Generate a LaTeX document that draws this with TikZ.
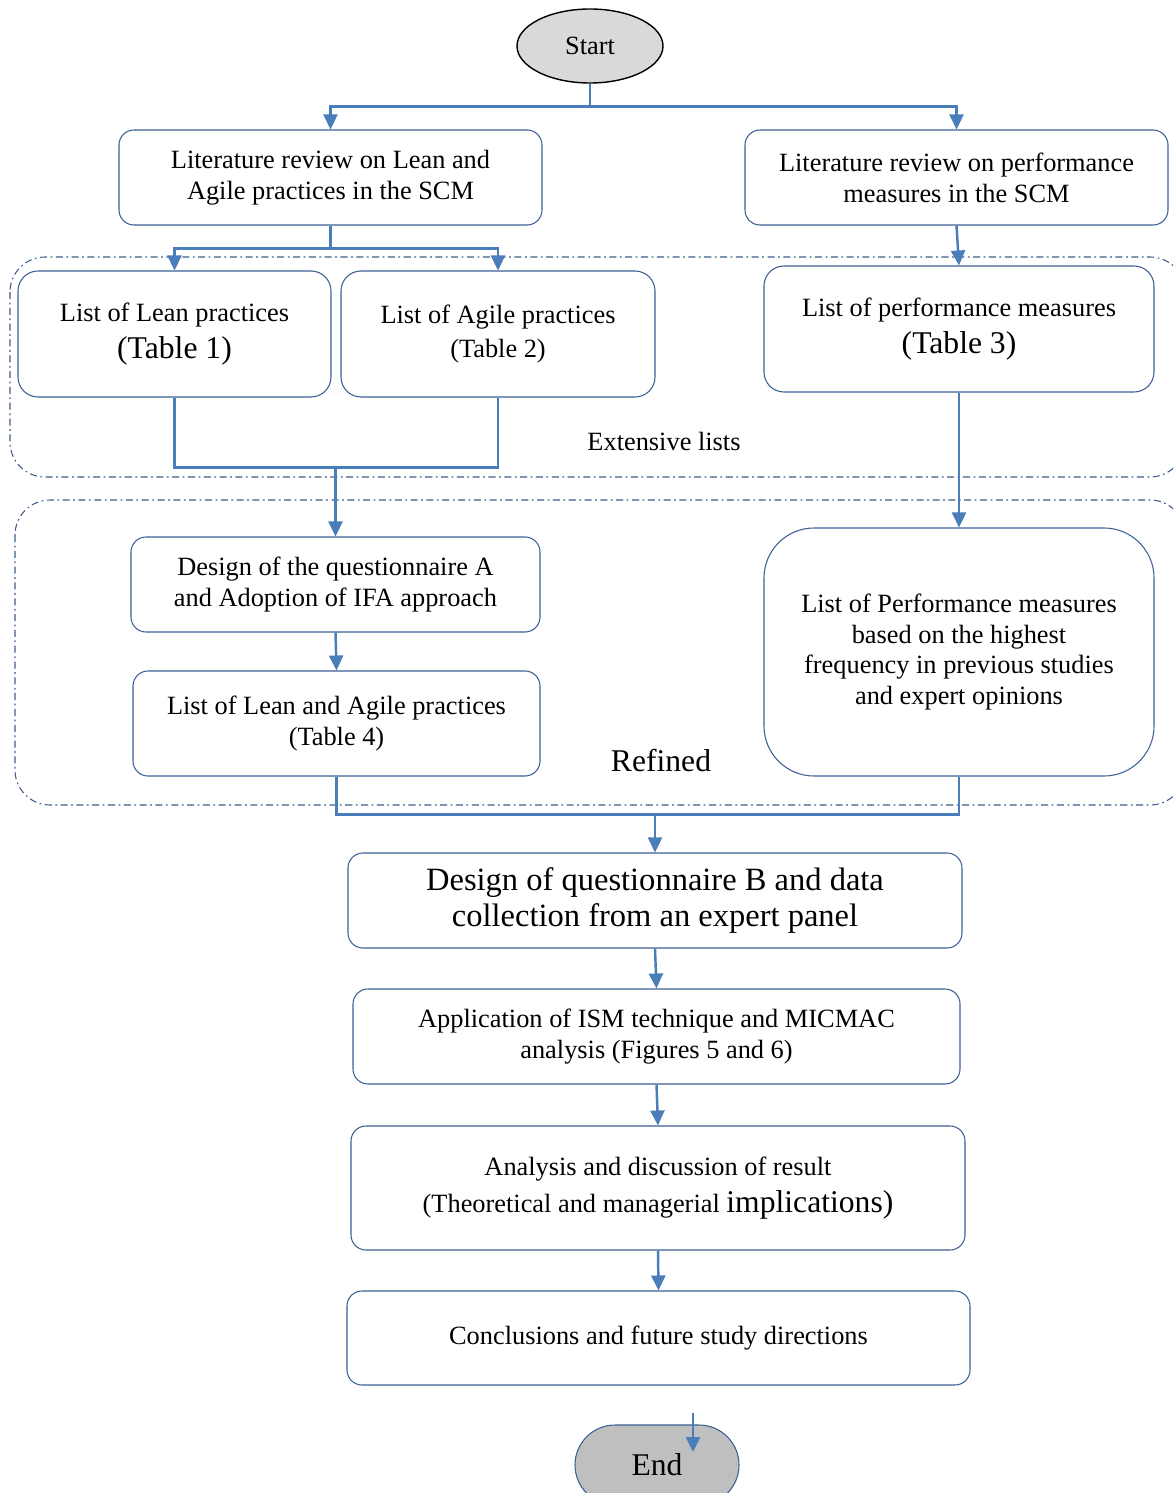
\documentclass[tikz,border=0pt]{standalone}
\usepackage{fontspec}
\setmainfont{Liberation Serif}
\usepackage{xcolor}
\usetikzlibrary{shapes.geometric,arrows.meta}
\definecolor{linkblue}{RGB}{74,126,187}
\definecolor{boxblue}{RGB}{60,95,150}
\definecolor{zoneblue}{RGB}{60,90,140}
\definecolor{startgray}{RGB}{217,217,217}
\definecolor{endgray}{RGB}{191,191,191}
\newcommand{\bigtxt}{\fontsize{18}{21}\selectfont}

\begin{document}
\begin{tikzpicture}[x=0.2mm, y=-0.2mm,
    box/.style={draw=boxblue, line width=0.6pt, rounded corners=3mm, fill=white,
        align=center, font=\fontsize{15}{17.6}\selectfont, inner sep=0pt},
    conn/.style={draw=linkblue, line width=1.4pt, -{Triangle[length=3mm,width=2.8mm]}},
    link/.style={draw=linkblue, line width=1.4pt},
    zone/.style={draw=zoneblue, line width=0.6pt,
        dash pattern=on 4pt off 2pt on 1pt off 2pt, rounded corners=7mm}]
    \useasboundingbox (0,0) rectangle (1173,1493);
    \clip (0,0) rectangle (1173,1493);
    \draw[zone] (10,257) rectangle (1185,477);
    \draw[zone] (15,500) rectangle (1185,805);
    \node[font=\fontsize{15}{17.6}\selectfont] (extlbl) at (664,441) {Extensive lists};
    \node[font=\bigtxt] (reflbl) at (661,761) {Refined};

    \node[ellipse, draw=black, line width=0.8pt, fill=startgray, inner sep=0pt,
        minimum width=29.2mm, minimum height=14.8mm, font=\fontsize{15}{17.6}\selectfont]
        (start) at (590,46) {Start};
    \node[box, minimum width=84.6mm, minimum height=19mm] (lit1) at (330.5,177.5)
        {Literature review on Lean and\\Agile practices in the SCM};
    \node[box, minimum width=84.6mm, minimum height=19mm] (lit2) at (956.5,177.5)
        {Literature review on performance\\measures in the SCM};
    \node[box, rounded corners=4mm, minimum width=62.6mm, minimum height=25.2mm] (lean) at (174.5,334)
        {List of Lean practices\\[3pt]{\bigtxt (Table 1)}};
    \node[box, rounded corners=4mm, minimum width=62.8mm, minimum height=25.2mm] (agile) at (498,334)
        {List of Agile practices\\[1.5pt](Table 2)};
    \node[box, rounded corners=4mm, minimum width=78mm, minimum height=25.2mm] (perf) at (959,329)
        {List of performance measures\\[3pt]{\bigtxt (Table 3)}};
    \node[box, minimum width=81.8mm, minimum height=19mm] (designA) at (335.5,584.5)
        {Design of the questionnaire A\\and Adoption of IFA approach};
    \node[box, minimum width=81.4mm, minimum height=21mm] (lalist) at (336.5,723.5)
        {List of Lean and Agile practices\\(Table 4)};
    \node[box, rounded corners=10mm, minimum width=78mm, minimum height=49.6mm] (perfref) at (959,652)
        {List of Performance measures\\based on the highest\\frequency in previous studies\\and expert opinions};
    \node[box, minimum width=122.8mm, minimum height=19mm, font=\fontsize{18.5}{20.5}\selectfont] (designB) at (655,900.5)
        {Design of questionnaire B and data\\collection from an expert panel};
    \node[box, minimum width=121.4mm, minimum height=19mm] (ism) at (656.5,1036.5)
        {Application of ISM technique and MICMAC\\analysis (Figures 5 and 6)};
    \node[box, minimum width=122.8mm, minimum height=24.8mm] (analysis) at (658,1188)
        {Analysis and discussion of result\\[3.5pt](Theoretical and managerial {\bigtxt implications)}};
    \node[box, minimum width=124.6mm, minimum height=18.8mm] (concl) at (658.5,1338)
        {Conclusions and future study directions};
    \node[draw=boxblue, line width=0.6pt, fill=endgray, rounded corners=8mm,
        minimum width=32.8mm, minimum height=16mm, font=\bigtxt] (end) at (657,1465) {End};

    \coordinate (joinA) at (335.5,467);
    \coordinate (joinB) at (655,814);
    \coordinate (endin) at (693,1413);
    \coordinate (endtip) at (693,1452);

    \draw[conn] (start.south) -- ++(0,23) -| (lit1.north);
    \draw[conn] (start.south) -- ++(0,23) -| (lit2.north);
    \draw[conn] (lit1.south) -- ++(0,23) -| (lean.north);
    \draw[conn] (lit1.south) -- ++(0,23) -| (agile.north);
    \draw[conn] (lit2.south) -- (perf.north);
    \draw[link] (lean.south) -- ++(0,70) -| (agile.south);
    \draw[conn] (joinA) -- (designA.north);
    \draw[conn] (perf.south) -- (perfref.north);
    \draw[conn] (designA.south) -- (lalist.north);
    \draw[link] (lalist.south) -- ++(0,38) -| (perfref.south);
    \draw[conn] (joinB) -- (designB.north);
    \draw[conn] (designB.south) -- (ism.north);
    \draw[conn] (ism.south) -- (analysis.north);
    \draw[conn] (analysis.south) -- (concl.north);
    \draw[conn] (endin) -- (endtip);
\end{tikzpicture}
\end{document}
